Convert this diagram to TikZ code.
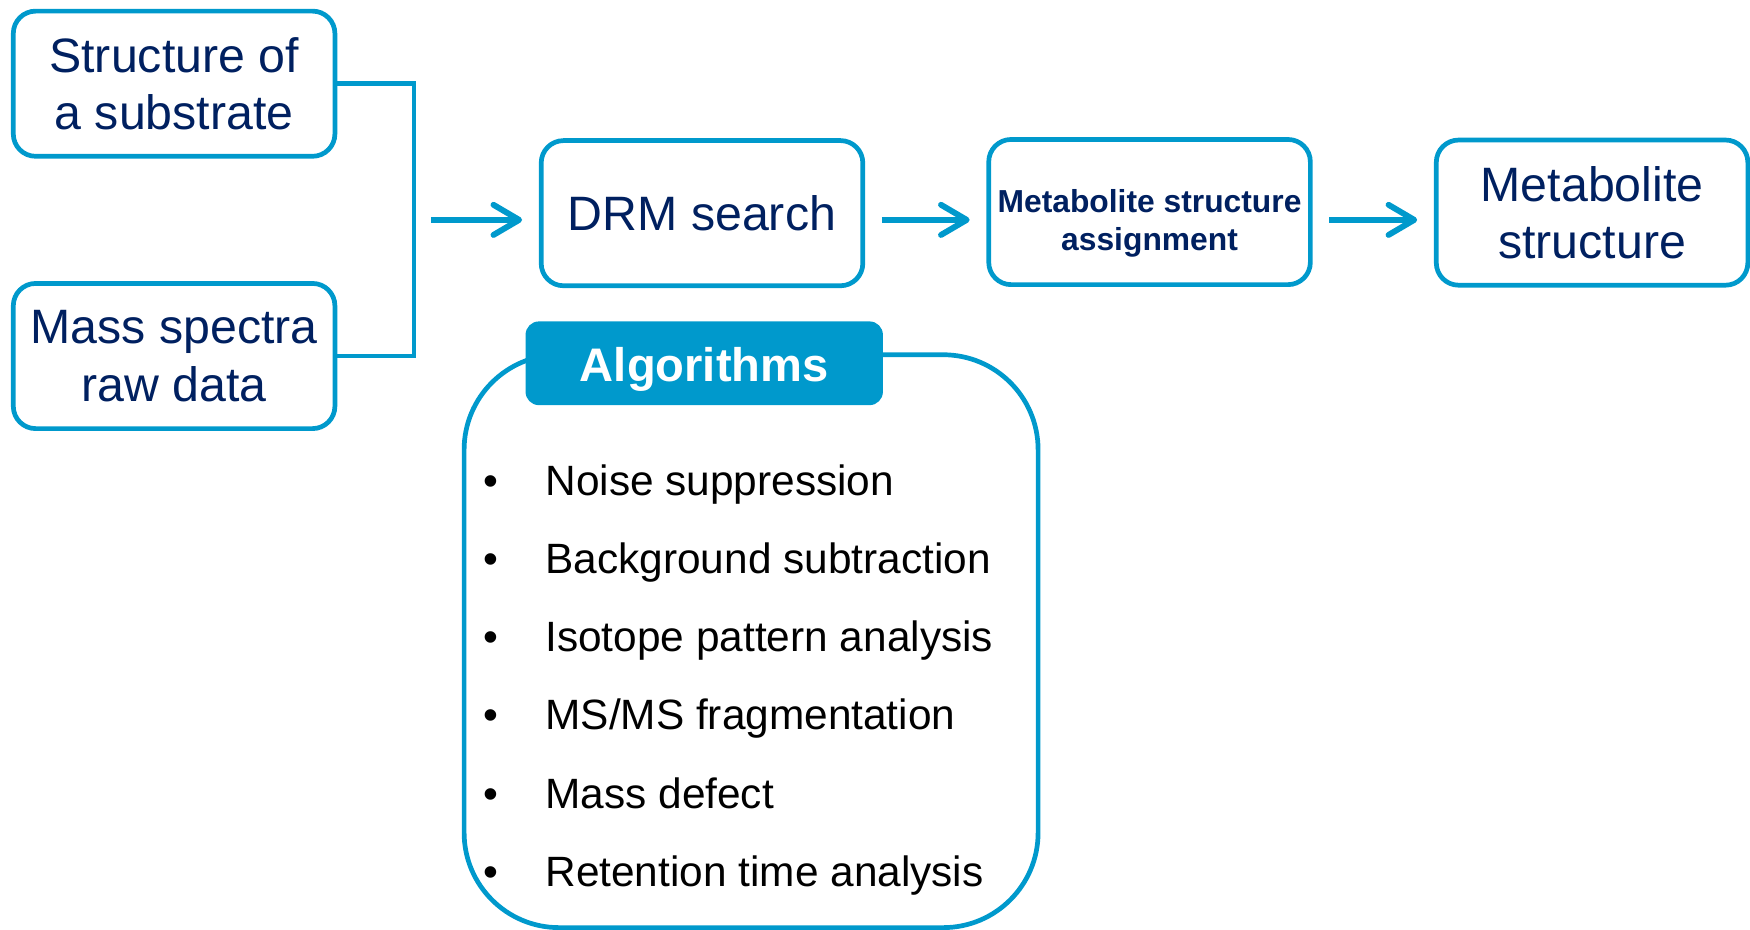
\documentclass[tikz,border=0pt]{standalone}
\usepackage{fontspec}
\setmainfont{Liberation Sans}
\usetikzlibrary{arrows.meta}

\definecolor{drmblue}{RGB}{0,153,204}
\definecolor{drmnavy}{RGB}{0,32,96}

\begin{document}
\begin{tikzpicture}[x=0.01cm, y=-0.01cm, every node/.style={align=center},
    card/.style={draw=drmblue, line width=1.2pt, rounded corners=0.2cm, minimum width=2.88cm,
        minimum height=1.3cm, inner sep=0pt, text=drmnavy, font=\fontsize{12.3}{14.6}\selectfont},
    flow/.style={draw=drmblue, line width=1.5pt, -{Straight Barb[length=2.3mm, width=2.7mm, round]},
        shorten <=0.15cm, shorten >=0.15cm},
    listfont/.style={font=\fontsize{10.8}{13}\selectfont, inner sep=0pt}]
    \useasboundingbox (0,0) rectangle (1568,833);

    \node[card] (sub) at (156,75) {Structure of\\a substrate};
    \node[card] (raw) at (156,319) {Mass spectra\\raw data};
    \node[card] (drm) at (629,191) {DRM search};
    \node[card, font=\bfseries\fontsize{8.1}{9.7}\selectfont] (assign) at (1030,190)
        {\rule{0pt}{11.6pt}Metabolite structure\\assignment};
    \node[card, minimum width=2.79cm] (result) at (1426.5,190.5) {Metabolite\\structure};

    \coordinate (join) at (371,197);
    \draw[drmblue, line width=1.2pt] (sub.east) -| (join) |- (raw.east);

    \draw[flow] (join) -- (join -| drm.west);
    \draw[flow] (drm.east |- join) -- (assign.west |- join);
    \draw[flow] (assign.east |- join) -- (result.west |- join);

    \node[draw=drmblue, line width=1.2pt, rounded corners=0.85cm, minimum width=5.14cm,
        minimum height=5.13cm] (algbox) at (673,574.5) {};
    \node[fill=drmblue, rounded corners=0.12cm, minimum width=3.2cm, minimum height=0.75cm,
        text=white, font=\bfseries\fontsize{12}{14.4}\selectfont] (algtitle) at (631,325.5)
        {\rule{0pt}{11.6pt}Algorithms};

    \foreach \txt [count=\i] in {Noise suppression, Background subtraction, Isotope pattern analysis,
        MS/MS fragmentation, Mass defect, Retention time analysis} {
        \node[listfont, anchor=base] (dot\i) at (440,374+70*\i) {\textbullet};
        \node[listfont, anchor=base west] (item\i) at (488,374+70*\i) {\txt};
    }
\end{tikzpicture}
\end{document}
